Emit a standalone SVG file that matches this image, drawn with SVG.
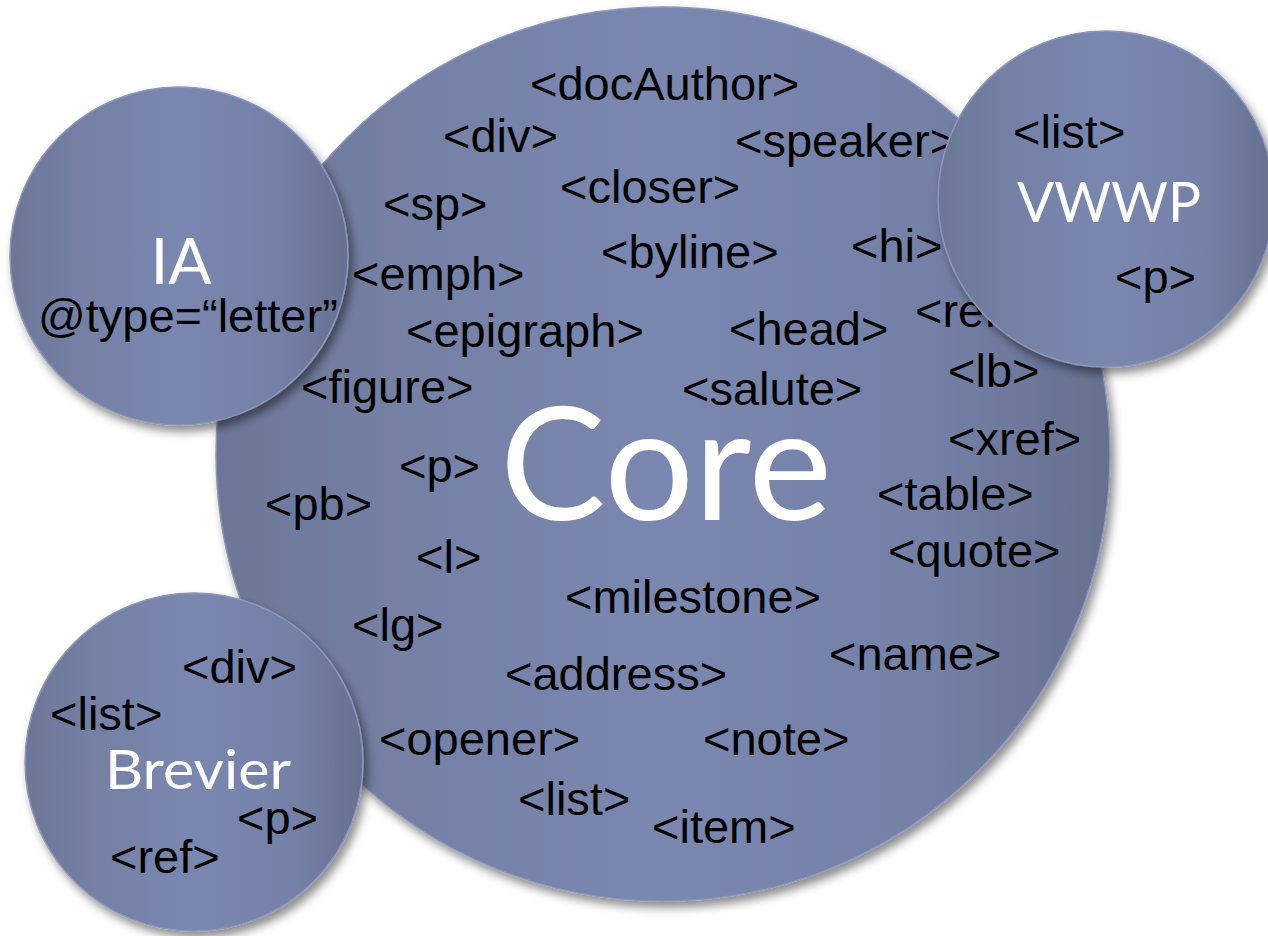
<svg xmlns="http://www.w3.org/2000/svg" width="1268" height="936" viewBox="0 0 1268 936">
<defs>
<linearGradient id="g" x1="0" y1="0" x2="1" y2="0">
<stop offset="0" stop-color="#6c7797"/>
<stop offset="0.2" stop-color="#7480a4"/>
<stop offset="0.5" stop-color="#7a87b0"/>
<stop offset="0.8" stop-color="#7480a6"/>
<stop offset="1" stop-color="#66708f"/>
</linearGradient>
<filter id="sh" x="-10%" y="-10%" width="125%" height="125%">
<feDropShadow dx="4" dy="6" stdDeviation="5" flood-color="#000" flood-opacity="0.45"/>
</filter>
<style>
.c{fill:url(#g);stroke:#8c97ba;stroke-width:1.5;filter:url(#sh)}
.t{font-family:"Liberation Sans",Arial,sans-serif;font-size:47px;fill:#000}
.h{font-family:Lato,"Open Sans",sans-serif;fill:#fff}
</style>
</defs>
<rect width="1268" height="936" fill="#fff"/>
<g id="core">
<circle class="c" cx="663" cy="454" r="447"/>
<text class="h" x="500" y="520" font-size="158" textLength="332" lengthAdjust="spacingAndGlyphs">Core</text>
<text class="t" x="530" y="100">&lt;docAuthor&gt;</text>
<text class="t" x="443" y="152">&lt;div&gt;</text>
<text class="t" x="735" y="157">&lt;speaker&gt;</text>
<text class="t" x="560" y="203">&lt;closer&gt;</text>
<text class="t" x="383" y="220">&lt;sp&gt;</text>
<text class="t" x="601" y="268">&lt;byline&gt;</text>
<text class="t" x="851" y="262">&lt;hi&gt;</text>
<text class="t" x="352" y="290">&lt;emph&gt;</text>
<text class="t" x="406" y="347">&lt;epigraph&gt;</text>
<text class="t" x="729" y="345">&lt;head&gt;</text>
<text class="t" x="915" y="327">&lt;ref&gt;</text>
<text class="t" x="948" y="387">&lt;lb&gt;</text>
<text class="t" x="301" y="403">&lt;figure&gt;</text>
<text class="t" x="682" y="405">&lt;salute&gt;</text>
<text class="t" x="948" y="455">&lt;xref&gt;</text>
<text class="t" x="399" y="482">&lt;p&gt;</text>
<text class="t" x="877" y="510">&lt;table&gt;</text>
<text class="t" x="265" y="520">&lt;pb&gt;</text>
<text class="t" x="416" y="573">&lt;l&gt;</text>
<text class="t" x="888" y="567">&lt;quote&gt;</text>
<text class="t" x="565" y="613">&lt;milestone&gt;</text>
<text class="t" x="352" y="641">&lt;lg&gt;</text>
<text class="t" x="829" y="670">&lt;name&gt;</text>
<text class="t" x="505" y="690">&lt;address&gt;</text>
<text class="t" x="379" y="755">&lt;opener&gt;</text>
<text class="t" x="703" y="755">&lt;note&gt;</text>
<text class="t" x="518" y="815">&lt;list&gt;</text>
<text class="t" x="652" y="843">&lt;item&gt;</text>
</g>
<g id="ia">
<circle class="c" cx="179" cy="256" r="169"/>
<text class="h" x="181" y="284" font-size="64" text-anchor="middle">IA</text>
<text class="t" x="38" y="332">@type=“letter”</text>
</g>
<g id="vwwp">
<circle class="c" cx="1106" cy="199" r="168"/>
<text class="h" x="1017" y="222" font-size="56" textLength="184" lengthAdjust="spacingAndGlyphs">VWWP</text>
<text class="t" x="1013" y="148">&lt;list&gt;</text>
<text class="t" x="1115" y="293">&lt;p&gt;</text>
</g>
<g id="brevier">
<circle class="c" cx="194" cy="762" r="169"/>
<text class="h" x="105" y="789" font-size="54" textLength="186" lengthAdjust="spacingAndGlyphs">Brevier</text>
<text class="t" x="182" y="683">&lt;div&gt;</text>
<text class="t" x="50" y="730">&lt;list&gt;</text>
<text class="t" x="237" y="834">&lt;p&gt;</text>
<text class="t" x="110" y="873">&lt;ref&gt;</text>
</g>
<g id="connectors"/>
</svg>
